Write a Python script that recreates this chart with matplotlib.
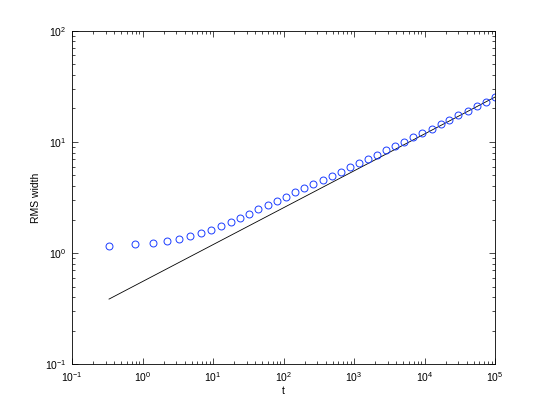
import numpy as np
import matplotlib
matplotlib.use('Agg')
import matplotlib.pyplot as plt
from matplotlib.ticker import LogLocator, NullFormatter

plt.rcParams['font.family'] = ['Liberation Sans', 'DejaVu Sans']
plt.rcParams['mathtext.default'] = 'regular'

# simulation output
t = [0.335, 0.78, 1.41, 2.23, 3.29, 4.72, 6.76, 9.37, 13.0, 18.0, 24.2, 32.4,
     43.5, 60.3, 80.9, 108, 146, 195, 262, 363, 488, 654, 877, 1178, 1581,
     2120, 2844, 3817, 5117, 6871, 9226, 12770, 17140, 22280, 29850, 41400,
     55590, 74470, 100000]
rms_width = [1.166, 1.20, 1.24, 1.285, 1.339, 1.416, 1.507, 1.621, 1.753, 1.904,
             2.069, 2.261, 2.477, 2.708, 2.942, 3.217, 3.522, 3.826, 4.154, 4.541,
             4.935, 5.395, 5.911, 6.457, 7.063, 7.674, 8.405, 9.19, 10.05, 11.0,
             12.02, 13.14, 14.39, 15.84, 17.35, 19.08, 20.9, 23.0, 25.3]

# t^(1/3) reference line endpoints
t_ref = [0.335, 100000]
w_ref = [0.386, 25.3]

xticks = [1e-1, 1e0, 1e1, 1e2, 1e3, 1e4, 1e5]
yticks = [1e-1, 1e0, 1e1, 1e2]

fig = plt.figure(figsize=(5.46, 4.11), dpi=100)
ax = fig.add_axes([0.1319, 0.1136, 0.7747, 0.8117])

ax.loglog(t_ref, w_ref, '-', color='black', linewidth=0.6)
ax.loglog(t, rms_width, 'o', markerfacecolor='none', markeredgecolor='#1a3cff',
          markersize=5, markeredgewidth=0.7)

ax.set_xlim(1e-1, 1e5)
ax.set_ylim(1e-1, 1e2)
ax.set_xticks(xticks)
ax.set_yticks(yticks)
ax.xaxis.set_minor_locator(LogLocator(base=10, subs=np.arange(2, 10), numticks=20))
ax.yaxis.set_minor_locator(LogLocator(base=10, subs=np.arange(2, 10), numticks=20))
ax.xaxis.set_minor_formatter(NullFormatter())
ax.yaxis.set_minor_formatter(NullFormatter())

ax.tick_params(which='both', direction='in', top=True, right=True,
               labelsize=7.5, width=0.5, pad=4)
ax.tick_params(which='major', length=4)
ax.tick_params(which='minor', length=2)
for s in ax.spines.values():
    s.set_linewidth(0.6)

ax.set_xlabel('t', fontsize=7.5, labelpad=2)
ax.set_ylabel('RMS width', fontsize=7.5, labelpad=3)

fig.savefig('out.png', dpi=100)
